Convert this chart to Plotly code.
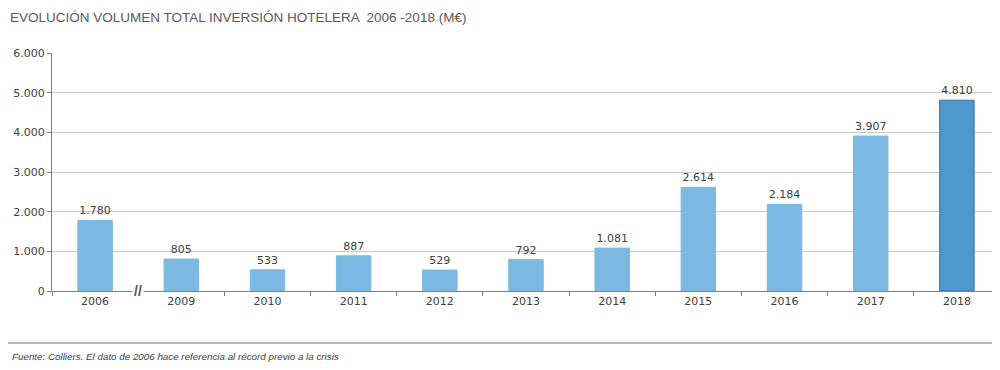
import plotly.graph_objects as go

years = ["2006", "2009", "2010", "2011", "2012", "2013", "2014", "2015", "2016", "2017", "2018"]
values = [1780, 805, 533, 887, 529, 792, 1081, 2614, 2184, 3907, 4810]
labels = ["1.780", "805", "533", "887", "529", "792", "1.081", "2.614", "2.184", "3.907", "4.810"]
y_ticks = [0, 1000, 2000, 3000, 4000, 5000, 6000]
y_tick_text = ["0", "1.000", "2.000", "3.000", "4.000", "5.000", "6.000"]

light = "#7cb9e2"
dark = "#4f97cf"
colors = [light] * (len(years) - 1) + [dark]
line_colors = [light] * (len(years) - 1) + ["#3d72a4"]

num_font = "DejaVu Sans"

fig = go.Figure()
fig.add_trace(go.Bar(
    x=years, y=values, text=labels, textposition="outside",
    textfont=dict(size=11, color="#404040", family=num_font),
    marker=dict(color=colors, line=dict(color=line_colors, width=1)),
    cliponaxis=False, width=0.4,
))

# page body has an 8px default margin; margins compensate for it
fig.update_layout(
    width=1000, height=370,
    margin=dict(l=44, r=8, t=45, b=87, autoexpand=False),
    paper_bgcolor="white", plot_bgcolor="white",
    showlegend=False,
    font=dict(family="Liberation Sans", color="#404040"),
    xaxis=dict(
        type="category", showgrid=False, showline=True, linecolor="#808080", linewidth=1,
        ticks="outside", ticklen=4, tickcolor="#808080", tickson="boundaries",
        tickfont=dict(size=11, color="#404040", family=num_font),
    ),
    yaxis=dict(
        range=[0, 6000], tickvals=y_ticks, ticktext=y_tick_text,
        showgrid=True, gridcolor="#c8c8c8", gridwidth=1,
        showline=True, linecolor="#808080", linewidth=1,
        ticks="outside", ticklen=4, tickcolor="#808080",
        tickfont=dict(size=11, color="#404040", family=num_font), zeroline=False,
    ),
)

fig.add_annotation(
    xref="paper", yref="paper", x=-0.0464, y=1.148, xanchor="left", yanchor="middle",
    text="EVOLUCIÓN VOLUMEN TOTAL INVERSIÓN HOTELERA  2006 -2018 (M€)",
    showarrow=False, font=dict(size=13.5, color="#5a5a5a", family="Liberation Sans"),
)
fig.add_annotation(
    xref="paper", yref="paper", x=-0.044, y=-0.277, xanchor="left", yanchor="middle",
    text="<i>Fuente: Colliers. El dato de 2006 hace referencia al récord previo a la crisis</i>",
    showarrow=False, font=dict(size=9.8, color="#404040", family="Liberation Sans"),
)
fig.add_shape(type="line", xref="paper", yref="paper", x0=-0.0464, x1=1.0, y0=-0.218, y1=-0.218,
              line=dict(color="#a0a0a0", width=1.5))
# axis break marker between 2006 and 2009
fig.add_annotation(
    x=0.5, y=0, xref="x", yref="y", text="<b>//</b>", showarrow=False,
    font=dict(size=14, color="#555555"), bgcolor="white", yanchor="middle", xanchor="center",
)

fig.write_html("out.html")
